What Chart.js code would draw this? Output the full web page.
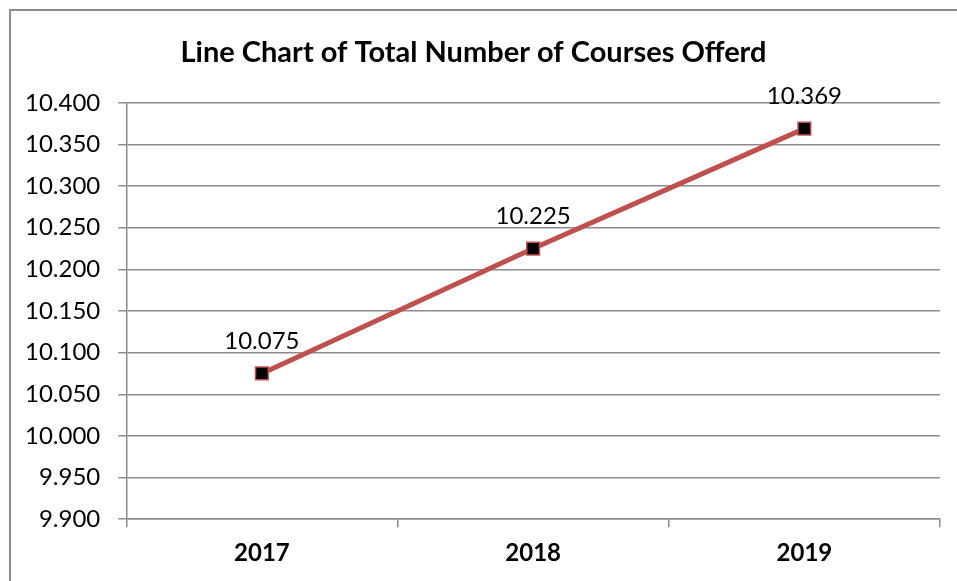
<!DOCTYPE html>
<html>
<head>
<meta charset="utf-8">
<script src="https://cdn.jsdelivr.net/npm/chart.js@4/dist/chart.umd.min.js"></script>
<style>
  html, body { margin: 0; padding: 0; background: #fff; overflow: hidden; }
  #wrap { position: relative; width: 957px; height: 581px; }
  #frame { position: absolute; left: 9px; top: 9px; width: 1000px; height: 700px; border: 2px solid #8c8c8c; box-sizing: border-box; }
  canvas { position: absolute; left: 0; top: 0; }
</style>
</head>
<body>
<div id="wrap">
  <div id="frame"></div>
  <canvas id="myChart" width="957" height="581"></canvas>
</div>
<script>
var years = ["2017", "2018", "2019"];
var courses = [10.075, 10.225, 10.369];
var yMin = 9.9;
var yMax = 10.4;
var yStep = 0.05;

document.addEventListener("DOMContentLoaded", function () {
  var ctx = document.getElementById("myChart").getContext("2d");

  // labels above each point
  var valueLabels = {
    id: "valueLabels",
    afterDatasetsDraw: function (chart) {
      var c = chart.ctx;
      var meta = chart.getDatasetMeta(0);
      c.save();
      c.font = "24px Lato";
      c.fillStyle = "#000";
      c.textAlign = "center";
      c.textBaseline = "middle";
      meta.data.forEach(function (pt, i) {
        c.fillText(courses[i].toFixed(3), pt.x, pt.y - 32);
      });
      c.restore();
    }
  };

  var myChart = new Chart(ctx, {
    type: "line",
    data: {
      labels: years,
      datasets: [
        {
          label: "Courses",
          data: courses,
          borderColor: "#C0504D",
          borderWidth: 5,
          pointStyle: "rect",
          pointRadius: 9,
          pointBackgroundColor: "#000",
          pointBorderColor: "#C0504D",
          pointBorderWidth: 1.5,
          tension: 0,
        },
      ],
    },
    options: {
      responsive: false,
      animation: false,
      layout: { padding: { left: 7, right: 17, top: 35, bottom: 1 } },
      plugins: {
        legend: { display: false },
        tooltip: { enabled: false },
        title: {
          display: true,
          text: "Line Chart of Total Number of Courses Offerd",
          color: "#000",
          font: { family: "Lato", size: 29, weight: "bold" },
          padding: { top: 0, bottom: 33 },
        },
      },
      scales: {
        x: {
          offset: true,
          grid: {
            offset: true,
            drawOnChartArea: false,
            drawTicks: true,
            tickLength: 8,
            color: "#8c8c8c",
            lineWidth: 1.5,
          },
          border: { color: "#8c8c8c", width: 1.5 },
          ticks: {
            color: "#000",
            padding: 12,
            font: { family: "Lato", size: 24, weight: "bold" },
          },
        },
        y: {
          min: yMin,
          max: yMax,
          grid: { color: "#8c8c8c", lineWidth: 1.5, tickLength: 8 },
          border: { color: "#8c8c8c", width: 1.5 },
          ticks: {
            stepSize: yStep,
            color: "#000",
            padding: 18,
            font: { family: "Lato", size: 24 },
            callback: function (v) { return v.toFixed(3); },
          },
        },
      },
    },
    plugins: [valueLabels],
  });
});
</script>
</body>
</html>
